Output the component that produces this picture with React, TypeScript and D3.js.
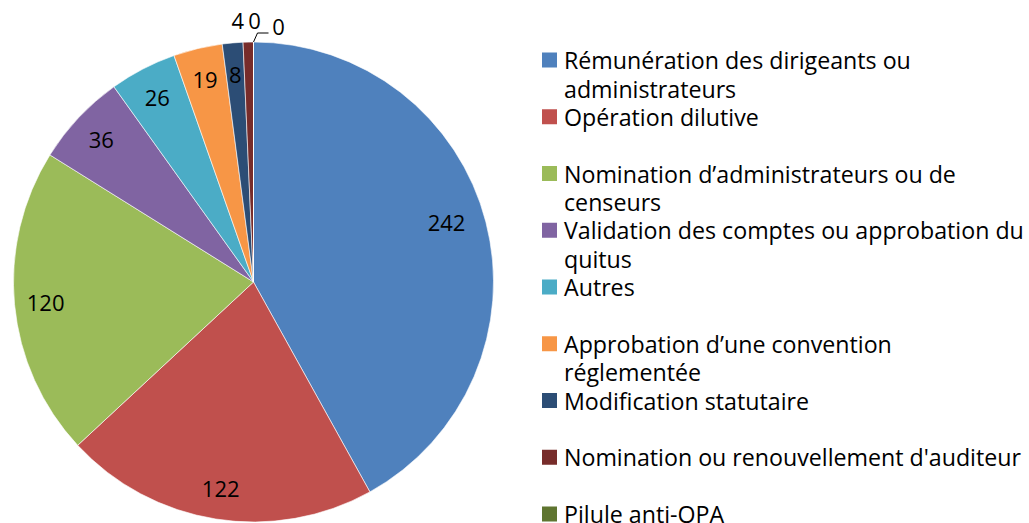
import React from "react";
import * as d3 from "d3";

const categories = [
  ["Rémunération des dirigeants ou", "administrateurs"],
  ["Opération dilutive"],
  ["Nomination d’administrateurs ou de", "censeurs"],
  ["Validation des comptes ou approbation du", "quitus"],
  ["Autres"],
  ["Approbation d’une convention", "réglementée"],
  ["Modification statutaire"],
  ["Nomination ou renouvellement d'auditeur"],
  ["Pilule anti-OPA"],
  ["Autre"],
];
const values = [242, 122, 120, 36, 26, 19, 8, 4, 0, 0];
const colors = [
  "#4F81BD", "#C0504D", "#9BBB59", "#8064A2", "#4BACC6",
  "#F79646", "#2C4D75", "#772C2A", "#5F7530", "#4D3B62",
];

const W = 1029;
const H = 523;
const cx = 253.5;
const cy = 282;
const R = 240;
const FONT = "'Open Sans', Lato, sans-serif";

export default function App() {
  const pie = d3.pie<number>().sort(null).value((d) => d);
  const arcs = pie(values);
  const arcGen = d3.arc<d3.PieArcDatum<number>>().innerRadius(0).outerRadius(R);
  const labelArc = d3.arc<d3.PieArcDatum<number>>().innerRadius(R * 0.87).outerRadius(R * 0.87);

  const legendX = 542;
  const legendY0 = 60;
  const legendStep = 56.75;
  const lineH = 28.5;
  const LF = 23.2;

  return (
    <svg
      width={W}
      height={H}
      style={{ position: "absolute", left: 0, top: 0, background: "#fff" }}
      fontFamily={FONT}
    >
      <g transform={`translate(${cx},${cy})`}>
        {arcs.map((a, i) => (
          <path key={i} d={arcGen(a) || ""} fill={colors[i]} stroke="#fff" strokeWidth={0.6} />
        ))}
        {arcs.map((a, i) => {
          if (values[i] < 5) return null;
          let [x, y] = labelArc.centroid(a);
          if (i === 0) { x *= 0.955; y = y * 0.955 - 10; }
          return (
            <text key={"l" + i} x={x} y={y} textAnchor="middle" dominantBaseline="central" fontSize={22} fill="#000">
              {values[i]}
            </text>
          );
        })}
        {arcs.map((a, i) => {
          if (values[i] >= 5) return null;
          const mid = (a.startAngle + a.endAngle) / 2;
          const rr = R + 22;
          let x = Math.sin(mid) * rr;
          let y = -Math.cos(mid) * rr;
          if (i === 7) x -= 10;
          if (i === 8) x += 1;
          if (i === 9) {
            const x0 = Math.sin(mid) * R;
            const y0 = -Math.cos(mid) * R;
            return (
              <g key={"o" + i}>
                <polyline
                  points={`${x0},${y0} ${x0 + 4},${y0 - 9} ${x0 + 15},${y0 - 9}`}
                  fill="none"
                  stroke="#000"
                  strokeWidth={1}
                />
                <text x={x0 + 25} y={y0 - 16} textAnchor="middle" dominantBaseline="central" fontSize={22} fill="#000">
                  {values[i]}
                </text>
              </g>
            );
          }
          return (
            <text key={"o" + i} x={x} y={y} textAnchor="middle" dominantBaseline="central" fontSize={22} fill="#000">
              {values[i]}
            </text>
          );
        })}
      </g>
      <g>
        {categories.map((lines, i) => {
          const y = legendY0 + i * legendStep;
          return (
            <g key={"lg" + i}>
              <rect x={legendX} y={y - 7.5} width={15} height={15} fill={colors[i]} />
              {lines.map((t, j) => (
                <text key={j} x={legendX + 22} y={y + j * lineH} dominantBaseline="central" fontSize={LF} fill="#000">
                  {t}
                </text>
              ))}
            </g>
          );
        })}
      </g>
    </svg>
  );
}
